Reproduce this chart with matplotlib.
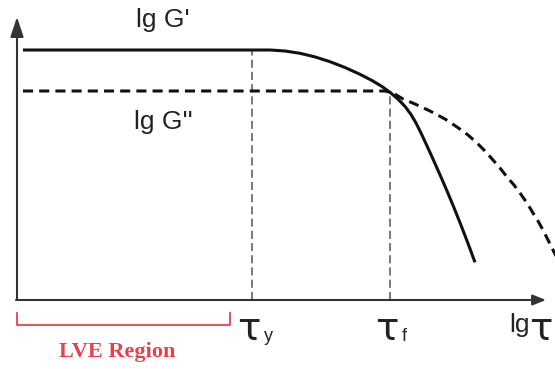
import matplotlib
matplotlib.use("Agg")
import matplotlib.pyplot as plt

# storage modulus G' (solid) and loss modulus G'' (dashed) against lg tau
g1_x = [6, 253, 268, 283, 298, 313, 328, 343, 355, 365, 373, 381, 388, 394,
        399, 404, 410, 416, 423, 430, 437, 444, 451, 458]
g1_y = [250, 250, 249, 246.7, 243.1, 238.3, 232.5, 225.7, 219.5, 213.5, 207.7,
        200.9, 193.6, 185.5, 177, 167, 154.1, 140.9, 125.2, 109.1, 92.3, 74.8,
        56.6, 37.7]

g2_x = [6, 368, 376, 386, 398, 413, 428, 440, 451, 460, 469, 476, 483, 490,
        497, 503, 510, 516, 521, 526, 531, 536, 539]
g2_y = [209, 209, 207, 201, 196, 189, 181, 173, 165, 157, 148, 140, 132, 123,
        115, 107, 97, 87, 79, 70, 60, 50, 44]

# yield stress and flow point
tau_y = 235
tau_f = 373
g1_plateau = 250
g2_plateau = 209

ink = "#111111"
red = "#e8404a"

fig = plt.figure(figsize=(5.55, 3.69), dpi=100)
ax = fig.add_axes([0, 0, 1, 1])
ax.set_xlim(-17, 538)
ax.set_ylim(-69, 300)
ax.axis("off")

# axes with arrow heads
ax.annotate("", xy=(0, 283), xytext=(0, 0),
            arrowprops=dict(arrowstyle="-|>,head_length=1.2,head_width=0.4",
                            lw=1.5, color="#333333", mutation_scale=10,
                            shrinkA=0, shrinkB=0))
ax.annotate("", xy=(529, 0), xytext=(-1, 0),
            arrowprops=dict(arrowstyle="-|>,head_length=0.8,head_width=0.32",
                            lw=1.5, color="#333333", mutation_scale=10,
                            shrinkA=0, shrinkB=0))

# guide lines at tau_y and tau_f
ax.plot([tau_y, tau_y], [0, g1_plateau], color="#555555", lw=1.1,
        linestyle=(0, (5.3, 2.7)))
ax.plot([tau_f, tau_f], [0, g2_plateau], color="#555555", lw=1.1,
        linestyle=(0, (5.3, 2.7)))

ax.plot(g1_x, g1_y, color=ink, lw=2.2, solid_capstyle="butt",
        solid_joinstyle="round")
ax.plot(g2_x, g2_y, color=ink, lw=2.2, linestyle=(0, (3.3, 2.0)))

ax.text(146, 280, "lg G'", fontsize=19, family="Liberation Sans",
        color="#222222", ha="center", va="center")
ax.text(146, 178, "lg G''", fontsize=19, family="Liberation Sans",
        color="#222222", ha="center", va="center")

# x axis labels
for x, sub in [(tau_y, "y"), (tau_f, "f")]:
    ax.text(x - 3, -10, "\u03c4", fontsize=28, family="DejaVu Sans",
            color="#222222", ha="center", va="top")
    ax.text(x + 12, -28, sub, fontsize=13, family="Liberation Sans",
            color="#222222", ha="left", va="top")
ax.text(492, -13, "lg", fontsize=19, family="Liberation Sans",
        color="#222222", ha="left", va="top")
ax.text(512, -10, "\u03c4", fontsize=28, family="DejaVu Sans",
        color="#222222", ha="left", va="top")

# linear viscoelastic region bracket
ax.plot([0, 0, 213, 213], [-13, -25, -25, -13], color=red, lw=1.3)
ax.text(100, -52, "LVE Region", fontsize=16, family="Liberation Serif",
        fontweight="bold", color=red, ha="center", va="center")

fig.savefig("out.png", dpi=100)
